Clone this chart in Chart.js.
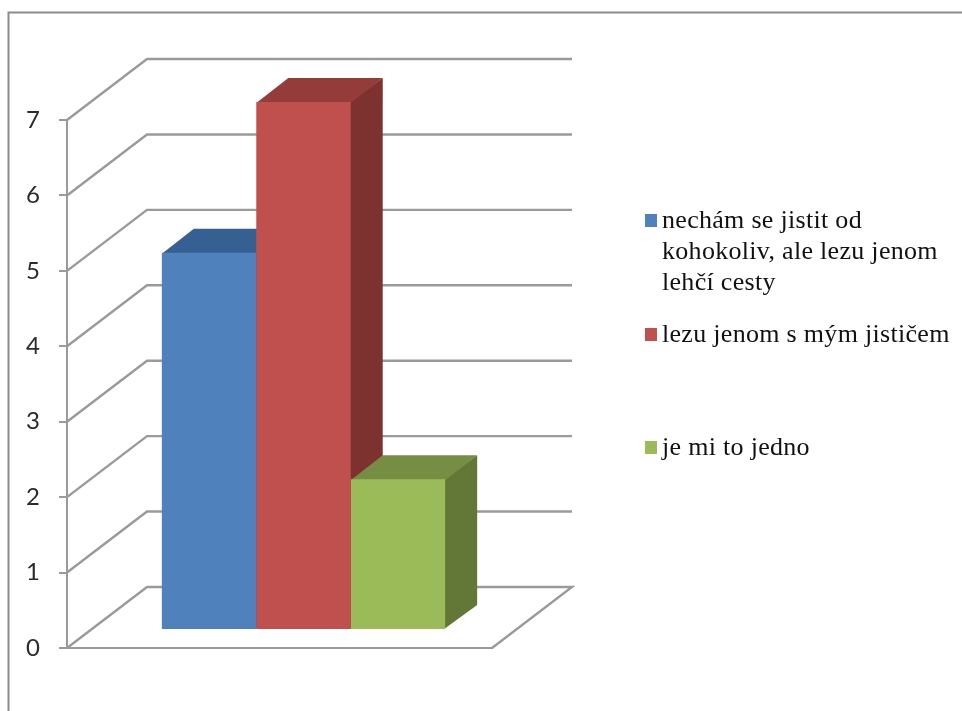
<!DOCTYPE html>
<html>
<head>
<meta charset="utf-8">
<style>
html, body { margin: 0; padding: 0; background: #fff; overflow: hidden; }
#box { width: 962px; height: 711px; }
</style>
<script src="https://cdn.jsdelivr.net/npm/chart.js@4"></script>
</head>
<body>
<div id="box"><canvas id="canvas_chart01" width="962" height="711"></canvas></div>
<script>
const categories = [''];
const seriesNames = ['nechám se jistit od kohokoliv, ale lezu jenom lehčí cesty', 'lezu jenom s mým jističem', 'je mi to jedno'];
const seriesValues = [5, 7, 2];
const frontColors = ['#4f81bd', '#c0504d', '#9bbb59'];
const topColors = ['#376092', '#943c39', '#768e44'];
const sideColors = ['#2f5280', '#7d322f', '#637837'];
const legendLines = [['nechám se jistit od', 'kohokoliv, ale lezu jenom', 'lehčí cesty'], ['lezu jenom s mým jističem'], ['je mi to jedno']];
const legendBaselines = [228, 342, 455];

// wall depth and how far the bars sit in front of the back wall
const wallDx = 80, wallDy = -61;
const barDx = 24, barDy = -18;
const depthDx = 32, depthDy = -24;
const axisGrey = '#9a9a9a';

function poly(c, pts, color) {
    c.fillStyle = color;
    c.beginPath();
    pts.forEach((p, i) => i ? c.lineTo(p[0], p[1]) : c.moveTo(p[0], p[1]));
    c.closePath();
    c.fill();
}

const frame3d = {
    id: 'frame3d',
    beforeDraw(chart) {
        const c = chart.ctx;
        c.save();
        c.strokeStyle = '#8a8a8a';
        c.lineWidth = 2;
        c.beginPath();
        c.moveTo(8.5, 711);
        c.lineTo(8.5, 12.5);
        c.lineTo(962, 12.5);
        c.stroke();
        c.restore();
    },
    beforeDatasetsDraw(chart) {
        const c = chart.ctx;
        const y = chart.scales.y;
        const left = chart.chartArea.left, right = chart.chartArea.right;
        c.save();
        c.strokeStyle = axisGrey;
        c.lineWidth = 2.4;
        y.ticks.forEach(t => {
            const py = y.getPixelForValue(t.value);
            c.beginPath();
            c.moveTo(left, py);
            c.lineTo(left + wallDx, py + wallDy);
            c.lineTo(right + wallDx, py + wallDy);
            if (t.value === 0) c.lineTo(right, py);
            c.stroke();
        });
        seriesValues.forEach((v, i) => {
            const bar = chart.getDatasetMeta(i).data[0];
            const x0 = bar.x - bar.width / 2 + barDx, x1 = bar.x + bar.width / 2 + barDx;
            const top = bar.y + barDy, bottom = bar.base + barDy;
            poly(c, [[x1 - 1, top], [x1 + depthDx, top + depthDy], [x1 + depthDx, bottom + depthDy], [x1 - 1, bottom]], sideColors[i]);
            poly(c, [[x0, top + 1], [x0 + depthDx, top + depthDy], [x1 + depthDx, top + depthDy], [x1, top + 1]], topColors[i]);
        });
        c.restore();
        // front faces are the library's own bars, moved off the axis plane
        c.save();
        c.translate(barDx, barDy);
    },
    afterDatasetsDraw(chart) {
        const c = chart.ctx;
        c.restore();
        c.save();
        c.font = '26px "Liberation Serif"';
        c.letterSpacing = '0.3px';
        c.textBaseline = 'alphabetic';
        legendLines.forEach((lines, i) => {
            const base = legendBaselines[i];
            c.fillStyle = frontColors[i];
            c.fillRect(645, base - 14, 12, 13);
            c.fillStyle = '#111';
            lines.forEach((line, j) => c.fillText(line, 662, base + j * 31));
        });
        c.restore();
    }
};

new Chart(document.getElementById('canvas_chart01'), {
    type: 'bar',
    data: {
        labels: categories,
        datasets: seriesNames.map((name, i) => ({
            label: name,
            data: [seriesValues[i]],
            backgroundColor: frontColors[i],
            borderWidth: 0,
            clip: false
        }))
    },
    options: {
        responsive: false,
        animation: false,
        layout: { padding: { left: 0, right: 470, top: 120, bottom: 63 } },
        barPercentage: 1,
        categoryPercentage: 2 / 3,
        plugins: { legend: { display: false }, tooltip: { enabled: false } },
        scales: {
            x: {
                afterFit(s) { s.height = 0; },
                ticks: { display: false },
                grid: { display: true, drawOnChartArea: false, drawTicks: false },
                border: { color: axisGrey, width: 2 }
            },
            y: {
                min: 0,
                max: 7,
                afterFit(s) { s.width = 67; },
                ticks: {
                    stepSize: 1,
                    padding: 19,
                    color: '#2b2b2b',
                    font: { family: 'Lato', size: 24 }
                },
                grid: { drawOnChartArea: false, tickLength: 8, color: axisGrey, lineWidth: 2 },
                border: { color: axisGrey, width: 2 }
            }
        }
    },
    plugins: [frame3d]
});
</script>
</body>
</html>
